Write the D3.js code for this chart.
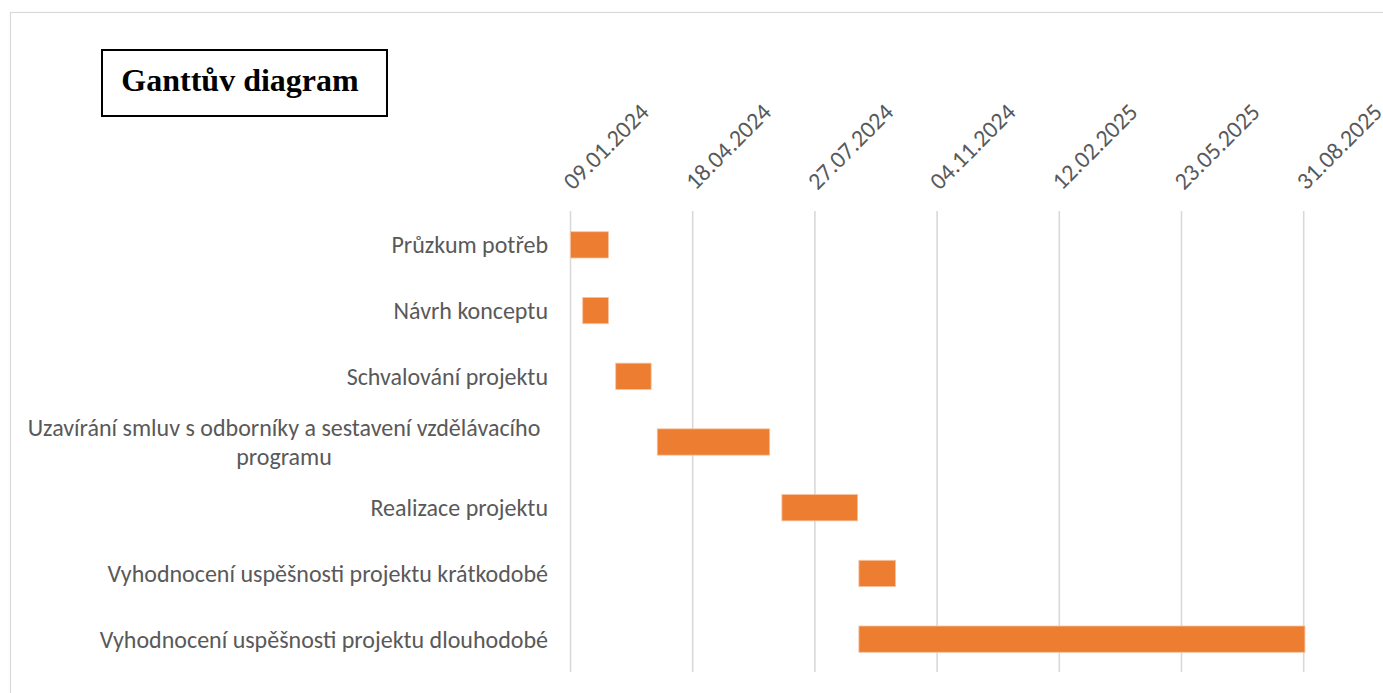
<!DOCTYPE html>
<html>
<head>
<meta charset="utf-8">
<script src="https://cdn.jsdelivr.net/npm/d3@7"></script>
<style>
  html, body { margin: 0; padding: 0; background: #fff; }
  svg { display: block; }
</style>
</head>
<body>
<svg id="chart" width="1383" height="693"></svg>
<script>
const title = "Ganttův diagram";
const tasks = [
  "Průzkum potřeb",
  "Návrh konceptu",
  "Schvalování projektu",
  "Uzavírání smluv s odborníky a sestavení vzdělávacího programu",
  "Realizace projektu",
  "Vyhodnocení uspěšnosti projektu krátkodobé",
  "Vyhodnocení uspěšnosti projektu dlouhodobé"
];
const startDates = ["09.01.2024", "19.01.2024", "15.02.2024", "20.03.2024", "30.06.2024", "01.09.2024", "01.09.2024"];
const endDates   = ["09.02.2024", "09.02.2024", "15.03.2024", "20.06.2024", "31.08.2024", "01.10.2024", "01.09.2025"];
const tickLabels = ["09.01.2024", "18.04.2024", "27.07.2024", "04.11.2024", "12.02.2025", "23.05.2025", "31.08.2025"];
const axisMin = "09.01.2024";
const axisMax = "31.08.2025";

const parse = d3.utcParse("%d.%m.%Y");
const fmt = d3.utcFormat("%d.%m.%Y");
const labelFont = "Carlito, Lato, 'Open Sans', sans-serif";

const svg = d3.select("#chart");

// outer chart frame
svg.append("rect").attr("x", 10.5).attr("y", 12.5).attr("width", 1400).attr("height", 700)
  .attr("fill", "none").attr("stroke", "#d9d9d9").attr("stroke-width", 1.2);

const x = d3.scaleUtc().domain([parse(axisMin), parse(axisMax)]).range([570.5, 1303.7]);
const y = d3.scaleBand().domain(tasks).range([212, 672]).paddingInner(0.6).paddingOuter(0.3);

const ticks = tickLabels.map(parse);

// gridlines
svg.append("g").selectAll("line").data(ticks).join("line")
  .attr("x1", d => x(d)).attr("x2", d => x(d))
  .attr("y1", 211).attr("y2", 672)
  .attr("stroke", "#d9d9d9").attr("stroke-width", 1.6);

// top axis with rotated labels
const axis = d3.axisTop(x).tickValues(ticks).tickFormat(fmt).tickSize(0);
const ax = svg.append("g").attr("transform", "translate(0,191)").call(axis);
ax.select(".domain").remove();
ax.selectAll("text")
  .attr("font-family", labelFont).attr("font-size", 24).attr("fill", "#595959")
  .attr("text-anchor", "start")
  .attr("dy", 0).attr("y", 0)
  .attr("transform", "translate(2,0) rotate(-45)");

// bars
svg.append("g").selectAll("rect").data(tasks).join("rect")
  .attr("x", (d, i) => x(parse(startDates[i])))
  .attr("y", d => y(d))
  .attr("width", (d, i) => x(parse(endDates[i])) - x(parse(startDates[i])))
  .attr("height", y.bandwidth())
  .attr("fill", "#ED7D31")
  .attr("stroke", "#f6c3a0").attr("stroke-width", 0.8);

// category labels (wrapped)
const labelRight = 548;
const maxW = 528;
const lblG = svg.append("g");
tasks.forEach(t => {
  const txt = lblG.append("text")
    .attr("font-family", labelFont).attr("font-size", 24).attr("fill", "#595959");
  const words = t.split(" ");
  const lines = [];
  let cur = [];
  const probe = txt.append("tspan");
  words.forEach(w => {
    const test = cur.concat([w]).join(" ");
    probe.text(test);
    if (probe.node().getComputedTextLength() > maxW && cur.length) {
      lines.push(cur.join(" "));
      cur = [w];
    } else cur.push(w);
  });
  lines.push(cur.join(" "));
  probe.remove();
  const lh = 29;
  const cy = y(t) + y.bandwidth() / 2;
  const y0 = cy - (lines.length - 1) * lh / 2;
  if (lines.length > 1) {
    const cx = labelRight - maxW / 2;
    txt.attr("text-anchor", "middle");
    lines.forEach((l, i) => {
      txt.append("tspan").attr("x", cx).attr("y", y0 + i * lh).attr("dy", "0.35em").text(l);
    });
  } else {
    txt.attr("text-anchor", "end");
    txt.append("tspan").attr("x", labelRight).attr("y", cy).attr("dy", "0.35em").text(lines[0]);
  }
});

// title box
svg.append("rect").attr("x", 102).attr("y", 50).attr("width", 285).attr("height", 66)
  .attr("fill", "#fff").attr("stroke", "#000").attr("stroke-width", 2);
svg.append("text").attr("x", 240).attr("y", 91).attr("text-anchor", "middle")
  .attr("font-family", "'Liberation Serif', 'Times New Roman', serif")
  .attr("font-weight", "bold").attr("font-size", 32).attr("fill", "#000")
  .text(title);
</script>
</body>
</html>
